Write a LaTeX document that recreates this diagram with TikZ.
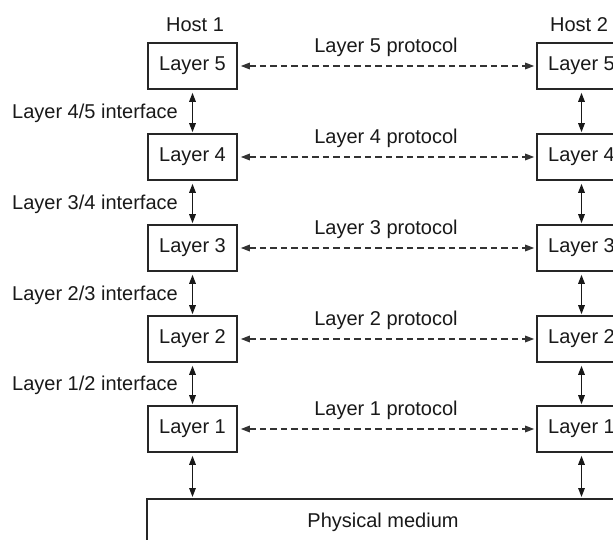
\documentclass[tikz,border=0pt]{standalone}
\usepackage{fontspec}
\setmainfont{Liberation Sans}
\usetikzlibrary{arrows.meta}
\begin{document}
\begin{tikzpicture}[x=1pt,y=-1pt,
  every node/.style={font=\fontsize{20}{23}\selectfont, text=black!90},
  tipa/.style={Triangle[length=9pt,width=6.5pt]},
  layerbox/.style={draw=black!85, line width=1.6pt, minimum width=89pt, minimum height=46pt, inner sep=0pt},
  proto/.style={draw=black!80, line width=1.5pt, dash pattern=on 6.5pt off 4pt, {Triangle[length=9pt,width=6.5pt]}-{Triangle[length=9pt,width=6.5pt]}, shorten <=3pt, shorten >=2pt},
  iface/.style={draw=black!90, line width=1.5pt, {Triangle[length=9pt,width=6.5pt]}-{Triangle[length=9pt,width=6.5pt]}, shorten <=3pt, shorten >=1pt},
  lbl/.style={inner sep=0pt}]
\useasboundingbox[fill=white] (0,0) rectangle (613,540);
\begin{scope}
\clip (0,0) rectangle (613,540);
\node[lbl] (h1) at (195,25) {Host 1};
\node[lbl] (h2) at (579,25) {Host 2};
\foreach \n/\y in {5/66,4/157,3/248,2/339,1/429}{
  \node[layerbox] (L\n) at (192.5,\y) {Layer \n};
  \node[layerbox] (R\n) at (581.5,\y) {Layer \n};
  \draw[proto] (L\n.east) -- (R\n.west);
  \node[lbl] (p\n) at (386,\y-18.5) {Layer \n\ protocol};
}
\node[draw=black!85, line width=1.6pt, minimum width=560pt, minimum height=100pt, anchor=north west, inner sep=0pt] (phys) at (146,498) {};
\node[lbl] (physt) at (383,522) {Physical medium};
\coordinate (pl) at (192.5,498);
\coordinate (pr) at (581.5,498);
\foreach \a/\b in {5/4,4/3,3/2,2/1}{
  \draw[iface] (L\a.south) -- (L\b.north);
  \draw[iface] (R\a.south) -- (R\b.north);
}
\draw[iface] (L1.south) -- (pl);
\draw[iface] (R1.south) -- (pr);
\node[lbl, anchor=east] (i45) at (178,113.5) {Layer 4/5 interface};
\node[lbl, anchor=east] (i34) at (178,204) {Layer 3/4 interface};
\node[lbl, anchor=east] (i23) at (178,295) {Layer 2/3 interface};
\node[lbl, anchor=east] (i12) at (178,385) {Layer 1/2 interface};
\end{scope}
\end{tikzpicture}
\end{document}
